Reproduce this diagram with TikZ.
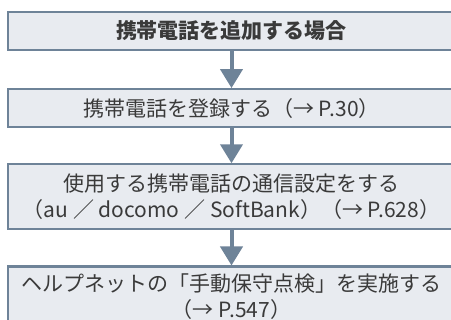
\documentclass[tikz,border=0pt]{standalone}
\usepackage{fontspec}
\setmainfont{Noto Sans CJK JP}
\usetikzlibrary{positioning,arrows.meta}
\definecolor{boxline}{HTML}{6E8398}
\definecolor{boxfill}{HTML}{E8EBF0}
\definecolor{boxtext}{HTML}{3A3A3A}
\tikzset{
  stepbox/.style={draw=boxline, fill=boxfill, line width=2.2pt, minimum width=447pt,
    text=boxtext, font=\fontsize{21}{26}\selectfont, align=center, inner sep=0pt},
  flow/.style={draw=boxline, line width=4pt, -{Triangle[width=22pt,length=19pt]}}
}
\begin{document}
\begin{tikzpicture}[x=1pt, y=-1pt, node distance=35pt]
  \useasboundingbox (0,0) rectangle (451,320);
  \node[stepbox, minimum height=38pt, font=\fontsize{21}{26}\selectfont\bfseries] (add) at (231.5,31) {携帯電話を追加する場合};
  \node[stepbox, minimum height=38pt, below=37pt of add] (reg) {携帯電話を登録する（→ P.30）};
  \node[stepbox, minimum height=65pt, below=35pt of reg] (comm) {使用する携帯電話の通信設定をする\\（au ／ docomo ／ SoftBank）（→ P.628）};
  \node[stepbox, minimum height=61pt, below=35pt of comm] (check) {ヘルプネットの「手動保守点検」を実施する\\（→ P.547）};

  \draw[flow] (add) -- (reg);
  \draw[flow] (reg) -- (comm);
  \draw[flow] (comm) -- (check);
\end{tikzpicture}
\end{document}
